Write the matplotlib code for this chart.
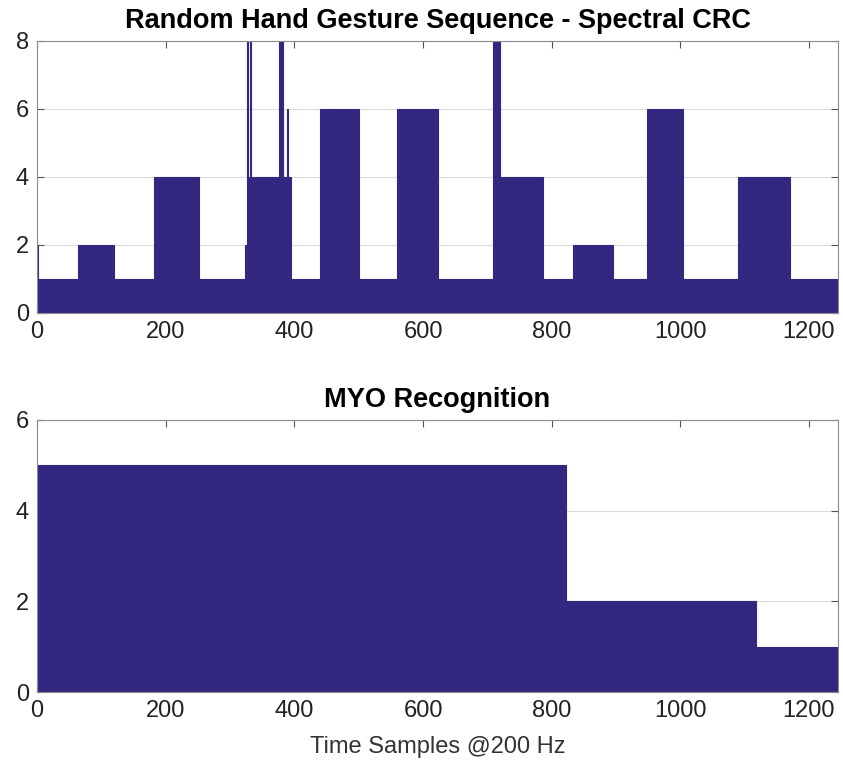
import matplotlib.pyplot as plt
import numpy as np

# top panel: gesture class per time-sample segment (segment starts, last entry = end)
crc_edges = [0, 2, 64, 119, 182, 251, 323, 326, 327.5, 331, 332.5, 337.5, 339.5,
             376, 383, 389, 390.5, 395, 440, 500, 560, 623, 708, 720, 786, 833,
             895, 948, 1004, 1090, 1092, 1093.5, 1171, 1245]
crc_values = [2, 1, 2, 1, 4, 1, 2, 8, 4, 8, 4, 2, 4,
              8, 4, 6, 4, 1, 6, 1, 6, 1, 8, 4, 1, 2,
              1, 6, 1, 4, 2, 4, 1]

# bottom panel: MYO recognition output
myo_edges = [0, 822, 1118, 1245]
myo_values = [5, 2, 1]

BAR_COLOR = '#33287f'
FRAME_COLOR = '#8c8c8c'


def style_axes(ax, ylim, yticks):
    ax.set_xlim(0, 1245)
    ax.set_ylim(*ylim)
    ax.set_yticks(yticks)
    ax.set_xticks(np.arange(0, 1201, 200))
    ax.grid(axis='y', color='#dcdcdc', linewidth=0.8)
    ax.set_axisbelow(True)
    ax.tick_params(direction='in', top=True, right=True, labelsize=17,
                   color='#555555', length=5, pad=6)
    for spine in ax.spines.values():
        spine.set_color(FRAME_COLOR)
    for label in ax.get_xticklabels() + ax.get_yticklabels():
        label.set_color('#222222')


plt.rcParams['font.family'] = ['Liberation Sans', 'DejaVu Sans']

fig = plt.figure(figsize=(8.43, 7.66), dpi=100)
ax_top = fig.add_axes([0.044, 0.5914, 0.950, 0.3551])
ax_bot = fig.add_axes([0.044, 0.0966, 0.950, 0.3551])

ax_top.stairs(crc_values, crc_edges, fill=True, color=BAR_COLOR,
              edgecolor=BAR_COLOR, linewidth=0.8)
style_axes(ax_top, (0, 8), [0, 2, 4, 6, 8])
ax_top.set_title('Random Hand Gesture Sequence - Spectral CRC',
                 fontsize=19.5, fontweight='bold', pad=9)

ax_bot.stairs(myo_values, myo_edges, fill=True, color=BAR_COLOR,
              edgecolor=BAR_COLOR, linewidth=0.8)
style_axes(ax_bot, (0, 6), [0, 2, 4, 6])
ax_bot.set_title('MYO Recognition', fontsize=19.5, fontweight='bold', pad=9)
ax_bot.set_xlabel('Time Samples @200 Hz', fontsize=17, color='#333333',
                  labelpad=10)

plt.savefig('out.png', dpi=100)
plt.close(fig)
